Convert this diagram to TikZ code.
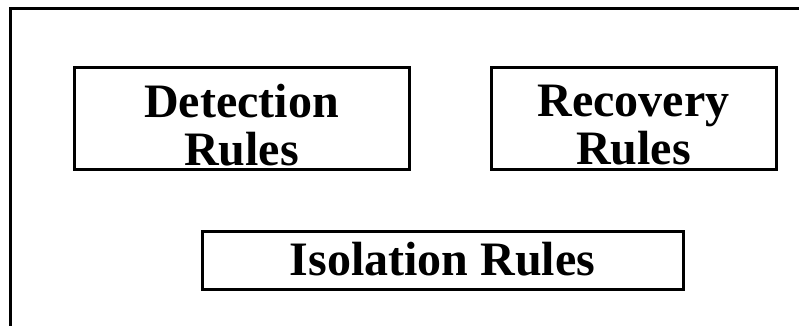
\documentclass[tikz,border=0pt]{standalone}
\usepackage{fontspec}
\setmainfont{Liberation Serif}
\begin{document}
\begin{tikzpicture}[x=1pt,y=1pt,
  frame/.style={draw=black,line width=3pt},
  rulebox/.style={draw=black,line width=3pt,rectangle,inner sep=0pt,outer sep=0pt},
  ruletext/.style={inner sep=0pt,align=center,font=\fontsize{48}{48}\selectfont\bfseries}]
  \useasboundingbox (0,0) rectangle (799,-325);
  \clip (0,0) rectangle (799,-325);
  % white page and outer frame running off the right and bottom
  \fill[white] (0,0) rectangle (799,-325);
  \draw[frame] (10.8,-8) rectangle (840,-370);
  % rule boxes
  \node[rulebox,minimum width=335pt,minimum height=102pt] (det) at (241.5,-118) {};
  \node[rulebox,minimum width=285pt,minimum height=102pt] (rec) at (633.5,-118) {};
  \node[rulebox,minimum width=481pt,minimum height=58pt] (iso) at (442.5,-260) {};
  % labels
  \node[ruletext,yshift=-7pt] (detl) at (det.center) {Detection\\Rules};
  \node[ruletext,yshift=-7.5pt] (recl) at (rec.center) {Recovery\\Rules};
  \node[ruletext,anchor=base] (isol) at (442.5,-275) {Isolation Rules};
\end{tikzpicture}
\end{document}
